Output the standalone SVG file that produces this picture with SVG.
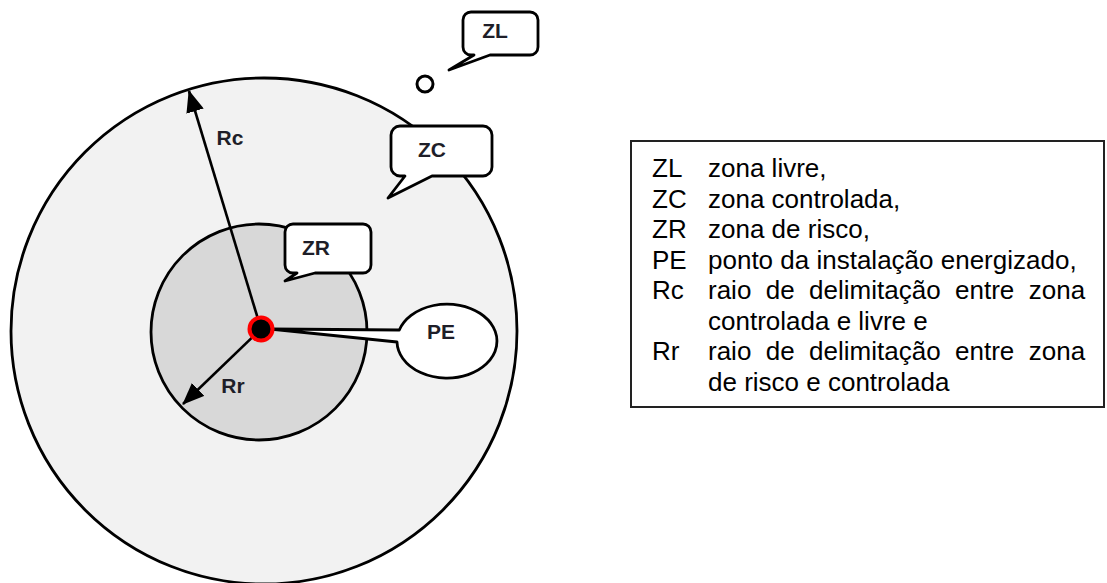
<svg xmlns="http://www.w3.org/2000/svg" width="1107" height="583" viewBox="0 0 1107 583">
  <style>
    .zone { stroke: #000; stroke-width: 2.8; }
    .bubble { fill: #fff; stroke: #000; stroke-width: 2.8; stroke-linejoin: round; }
    .lbl { font-family: "Liberation Sans", Arial, sans-serif; font-weight: bold; font-size: 21px; fill: #1e1e28; text-anchor: middle; }
    .radius { stroke: #000; stroke-width: 2.6; fill: none; }
    .legend { font-family: "Liberation Sans", Arial, sans-serif; font-size: 26px; fill: #000; }
  </style>
  <defs>
    <marker id="arrow" markerUnits="userSpaceOnUse" markerWidth="22" markerHeight="18" refX="21" refY="9" orient="auto">
      <path d="M0,0 L22,9 L0,18 Z" fill="#000"/>
    </marker>
  </defs>

  <rect width="1107" height="583" fill="#fff"/>

  <!-- zones -->
  <g id="zona-controlada">
    <circle class="zone" cx="264" cy="331" r="253" fill="#f2f2f2"/>
  </g>
  <g id="zona-risco">
    <circle class="zone" cx="259" cy="332" r="108" fill="#d8d8d8"/>
  </g>

  <!-- radii -->
  <g id="connectors">
    <line class="radius" x1="261" y1="329" x2="189" y2="91" marker-end="url(#arrow)"/>
    <line class="radius" x1="261" y1="329" x2="183" y2="404" marker-end="url(#arrow)"/>
  </g>

  <g id="label-rc"><text class="lbl" x="230" y="145">Rc</text></g>
  <g id="label-rr"><text class="lbl" x="233" y="393">Rr</text></g>

  <!-- callouts -->
  <g id="callout-zr">
    <path class="bubble" d="M293,224 H363 A8,8 0 0 1 371,232 V265 A8,8 0 0 1 363,273 H315 L285,281 L297,273 H293 A8,8 0 0 1 285,265 V232 A8,8 0 0 1 293,224 Z"/>
    <text class="lbl" x="316" y="255">ZR</text>
  </g>

  <g id="callout-zc">
    <path class="bubble" d="M400,126 H483 A9,9 0 0 1 492,135 V167 A9,9 0 0 1 483,176 H432 L388,198 L405,176 H400 A9,9 0 0 1 391,167 V135 A9,9 0 0 1 400,126 Z"/>
    <text class="lbl" x="432" y="157">ZC</text>
  </g>

  <g id="callout-zl">
    <path class="bubble" d="M471,12 H530 A8,8 0 0 1 538,20 V47 A8,8 0 0 1 530,55 H490 L449,70 L474,55 H471 A8,8 0 0 1 463,47 V20 A8,8 0 0 1 471,12 Z"/>
    <circle cx="425" cy="84" r="8" fill="#fff" stroke="#000" stroke-width="3"/>
    <text class="lbl" x="495" y="38">ZL</text>
  </g>

  <g id="callout-pe">
    <path class="bubble" d="M270,329 L399.3,330 A50,37 0 1 1 397,342 Z"/>
    <text class="lbl" x="441" y="339">PE</text>
  </g>

  <!-- energised point -->
  <g id="ponto-energizado">
    <circle cx="261" cy="329" r="13.5" fill="#ff0000"/>
    <circle cx="261" cy="329" r="9.5" fill="#000"/>
  </g>

  <!-- key -->
  <g id="legenda">
    <rect x="631" y="141" width="473" height="266" fill="#fff" stroke="#222" stroke-width="2"/>
    <g class="legend">
      <text x="652" y="177">ZL</text>
      <text x="708" y="177">zona livre,</text>
      <text x="652" y="207.5">ZC</text>
      <text x="708" y="207.5">zona controlada,</text>
      <text x="652" y="238">ZR</text>
      <text x="708" y="238">zona de risco,</text>
      <text x="652" y="268.5">PE</text>
      <text x="708" y="268.5">ponto da instalação energizado,</text>
      <text x="652" y="299">Rc</text>
      <text x="708" y="299" word-spacing="7.2">raio de delimitação entre zona</text>
      <text x="708" y="329.5">controlada e livre e</text>
      <text x="652" y="360">Rr</text>
      <text x="708" y="360" word-spacing="7.2">raio de delimitação entre zona</text>
      <text x="708" y="390.5">de risco e controlada</text>
    </g>
  </g>
</svg>
